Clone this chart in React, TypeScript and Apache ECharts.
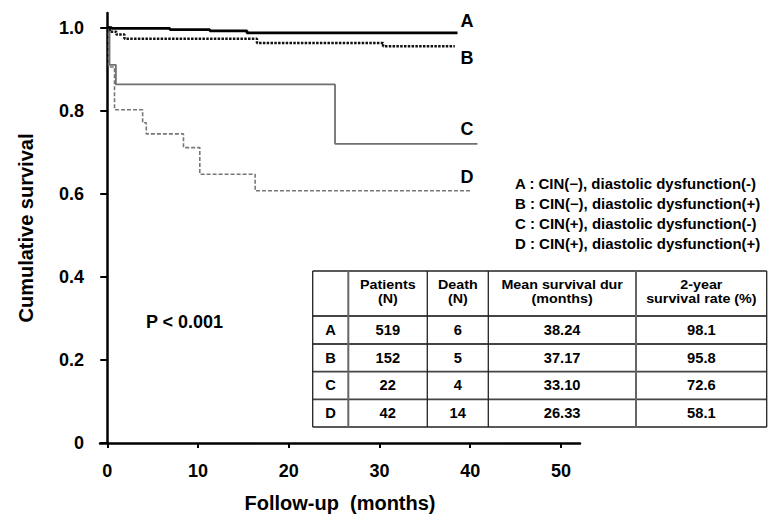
import React, { useEffect, useRef } from "react";
import * as echarts from "echarts";

const FONT = '"Liberation Sans", Arial, sans-serif';

// Kaplan-Meier curves (months, cumulative survival)
const A_t = [0, 0.5, 6.9, 11.3, 15.4, 38.6];
const A_s = [1.0, 0.998, 0.995, 0.992, 0.987, 0.987];
const B_t = [0, 0.3, 1.0, 1.9, 16.5, 30.4, 38.3];
const B_s = [1.0, 0.99, 0.983, 0.973, 0.963, 0.955, 0.955];
const C_t = [0, 0.25, 0.95, 25.1, 40.8];
const C_s = [1.0, 0.91, 0.863, 0.72, 0.72];
const D_t = [0, 0.15, 0.8, 3.9, 4.3, 8.4, 10.2, 16.3, 40.0];
const D_s = [1.0, 0.905, 0.802, 0.771, 0.744, 0.711, 0.647, 0.607, 0.607];

const Y_TICKS = [0, 0.2, 0.4, 0.6, 0.8, 1.0];
const X_TICKS = [0, 10, 20, 30, 40, 50];

const GROUPS = ["A", "B", "C", "D"];
const LEGEND = [
  "A : CIN(\u2212), diastolic dysfunction(-)",
  "B : CIN(\u2212), diastolic dysfunction(+)",
  "C : CIN(+), diastolic dysfunction(-)",
  "D : CIN(+), diastolic dysfunction(+)",
];
const PATIENTS = ["519", "152", "22", "42"];
const DEATHS = ["6", "5", "4", "14"];
const MEAN_SURV = ["38.24", "37.17", "33.10", "26.33"];
const RATE_2Y = ["98.1", "95.8", "72.6", "58.1"];
const HEADERS = [
  ["", ""],
  ["Patients", "(N)"],
  ["Death", "(N)"],
  ["Mean survival dur", "(months)"],
  ["2-year", "survival rate (%)"],
];

const pairs = (t: number[], s: number[]) => t.map((x, i) => [x, s[i]]);

export default function App() {
  const ref = useRef<HTMLDivElement>(null);
  useEffect(() => {
    if (!ref.current) return;
    const chart = echarts.init(ref.current, null, { renderer: "svg" });

    const txt = (text: string, x: number, y: number, size: number, align = "center", sx = 1) => ({
      type: "text",
      x,
      y,
      scaleX: sx,
      style: {
        text,
        fill: "#000",
        fontSize: size,
        fontWeight: "bold",
        fontFamily: FONT,
        align,
        verticalAlign: "middle",
        textAlign: align,
        textVerticalAlign: "middle",
      },
      z: 100,
    });

    // Table geometry
    const colX = [312.7, 348.3, 427.3, 488.3, 636, 766.7];
    const rowY = [271, 316, 344, 371.7, 399.3, 427];
    const graphics: any[] = [];
    graphics.push({
      type: "rect",
      shape: { x: colX[0], y: rowY[0], width: colX[5] - colX[0], height: rowY[5] - rowY[0] },
      style: { fill: "#fff", stroke: "none" },
      z: 90,
    });
    rowY.forEach((y, i) => {
      graphics.push({
        type: "line",
        shape: { x1: colX[0], y1: y, x2: colX[5], y2: y },
        style: { stroke: i === 0 || i === 5 ? "#222" : "#444", lineWidth: i === 0 || i === 5 ? 1.3 : 1.8 },
        z: 95,
      });
    });
    colX.forEach((x, i) => {
      graphics.push({
        type: "line",
        shape: { x1: x, y1: rowY[0], x2: x, y2: rowY[5] },
        style: { stroke: i === 1 || i === 4 ? "#666" : "#222", lineWidth: i === 1 || i === 4 ? 2 : 1.3 },
        z: 95,
      });
    });
    const colC = colX.slice(0, 5).map((x, i) => (x + colX[i + 1]) / 2);
    HEADERS.forEach((h, i) => {
      if (h[0]) graphics.push(txt(h[0], colC[i], 284.5, 13, "center", 1.1));
      if (h[1]) graphics.push(txt(h[1], colC[i], 298.5, 13, "center", 1.1));
    });
    GROUPS.forEach((g, r) => {
      const cy = (rowY[r + 1] + rowY[r + 2]) / 2;
      const vals = [g, PATIENTS[r], DEATHS[r], MEAN_SURV[r], RATE_2Y[r]];
      vals.forEach((v, c) => graphics.push(txt(v, colC[c], cy, 14, "center", 1.05)));
    });
    // Legend lines
    LEGEND.forEach((l, i) => graphics.push(txt(l, 515, 184.5 + i * 20, 14, "left", 1.07)));
    // Curve labels
    const lblY = [20.7, 58, 129, 177];
    GROUPS.forEach((g, i) => graphics.push(txt(g, 467, lblY[i], 18)));
    graphics.push(txt("P < 0.001", 184.5, 322, 18));

    chart.setOption({
      animation: false,
      backgroundColor: "#fff",
      grid: { left: 100, right: 200, top: 13, bottom: 87, containLabel: false },
      xAxis: {
        type: "value",
        min: -0.8,
        max: 52.1,
        name: "Follow-up  (months)",
        nameLocation: "middle",
        nameGap: 50,
        nameTextStyle: { fontSize: 20, fontWeight: "bold", fontFamily: FONT, color: "#000" },
        axisLine: { show: true, onZero: true, lineStyle: { color: "#000", width: 2.5 } },
        axisTick: { show: true, length: 5, customValues: X_TICKS, lineStyle: { color: "#000", width: 2 } },
        axisLabel: {
          customValues: X_TICKS,
          margin: 19,
          fontSize: 18,
          fontWeight: "bold",
          fontFamily: FONT,
          color: "#000",
        },
        splitLine: { show: false },
      },
      yAxis: {
        type: "value",
        min: 0,
        max: 1.035,
        name: "Cumulative survival",
        nameLocation: "middle",
        nameGap: 64,
        nameTextStyle: { fontSize: 20, fontWeight: "bold", fontFamily: FONT, color: "#000" },
        axisLine: { show: true, onZero: true, lineStyle: { color: "#000", width: 2.5 } },
        axisTick: { show: true, length: 7, customValues: Y_TICKS, lineStyle: { color: "#000", width: 2 } },
        axisLabel: {
          customValues: Y_TICKS,
          margin: 16,
          fontSize: 18,
          fontWeight: "bold",
          fontFamily: FONT,
          color: "#000",
          formatter: (v: number) => (v === 0 ? "0" : v.toFixed(1)),
        },
        splitLine: { show: false },
      },
      series: [
        {
          name: "D",
          type: "line",
          step: "end",
          showSymbol: false,
          data: pairs(D_t, D_s),
          lineStyle: { color: "#777", width: 1.6, type: [4, 2] },
          z: 2,
        },
        {
          name: "C",
          type: "line",
          step: "end",
          showSymbol: false,
          data: pairs(C_t, C_s),
          lineStyle: { color: "#707070", width: 1.8 },
          z: 3,
        },
        {
          name: "B",
          type: "line",
          step: "end",
          showSymbol: false,
          data: pairs(B_t, B_s),
          lineStyle: { color: "#111", width: 2.5, type: [2.5, 1.3] },
          z: 4,
        },
        {
          name: "A",
          type: "line",
          step: "end",
          showSymbol: false,
          data: pairs(A_t, A_s),
          lineStyle: { color: "#000", width: 2.8 },
          z: 5,
        },
      ],
      graphic: graphics,
    });
    return () => chart.dispose();
  }, []);
  return (
    <div
      ref={ref}
      style={{ position: "fixed", left: 0, top: 0, width: 780, height: 530 }}
    />
  );
}
